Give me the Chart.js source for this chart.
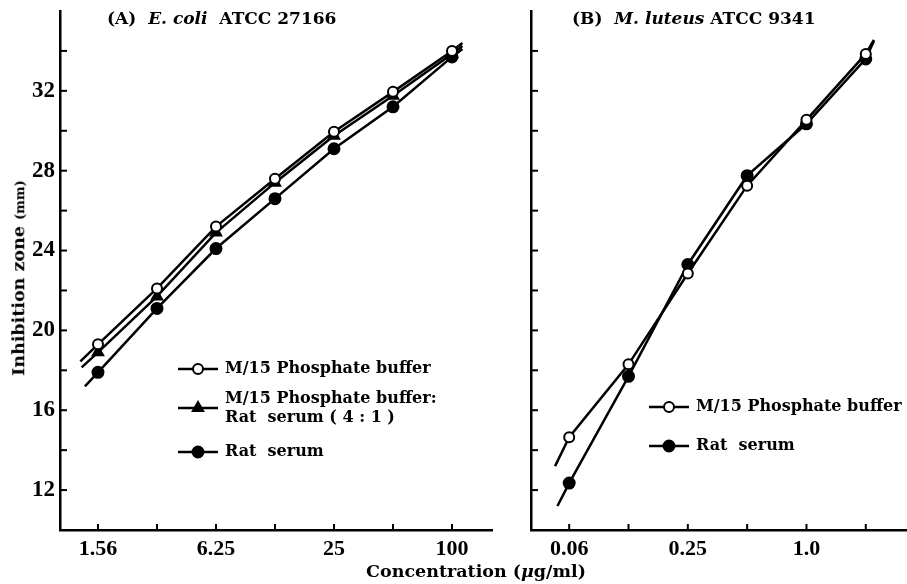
<!DOCTYPE html>
<html><head><meta charset="utf-8">
<script src="https://cdn.jsdelivr.net/npm/chart.js@4"></script>
<style>
body{margin:0;background:#fff;width:907px;height:584px;overflow:hidden;position:relative;font-family:"DejaVu Serif",serif;font-weight:bold;color:#000}
#wa{position:absolute;left:0;top:0;width:500px;height:584px}
#wb{position:absolute;left:500px;top:0;width:407px;height:584px}
.t{position:absolute;white-space:nowrap;font-size:17px;line-height:1}
</style></head><body>
<div id="wa"><canvas id="ca"></canvas></div>
<div id="wb"><canvas id="cb"></canvas></div>
<div class="t" style="left:107px;top:10px">(A)&nbsp; <i>E. coli</i>&nbsp; ATCC 27166</div>
<div class="t" style="left:572px;top:10px">(B)&nbsp; <i>M. luteus</i>&nbsp;ATCC 9341</div>
<div class="t" style="left:476px;top:572px;font-size:17.5px;transform:translate(-50%,-50%)">Concentration (<i>μ</i>g/ml)</div>
<div class="t" style="left:19px;top:278px;font-size:17.5px;transform:translate(-50%,-50%) rotate(-90deg)">Inhibition zone <span style="font-size:13px">(mm)</span></div>
<script>
// ---- Panel A: E. coli ATCC 27166 ----
const concA = [1.5625, 3.125, 6.25, 12.5, 25, 50, 100];
const bufferA = [19.3, 22.1, 25.2, 27.6, 29.95, 31.95, 34.0];
const mixA = [18.9, 21.7, 24.9, 27.4, 29.75, 31.75, 33.85];
const serumA = [17.9, 21.1, 24.1, 26.6, 29.1, 31.2, 33.7];
// drawn line ends beyond the outer points: [concentration, zone]
const bufferAEnds = [[1.27, 18.45], [113, 34.4]];
const mixAEnds = [[1.29, 18.15], [113, 34.25]];
const serumAEnds = [[1.34, 17.2], [113, 34.1]];
const xTicksA = [1.5625, 3.125, 6.25, 12.5, 25, 50, 100];
const xLabelsA = ['1.56', '', '6.25', '', '25', '', '100'];

// ---- Panel B: M. luteus ATCC 9341 ----
const concB = [0.0625, 0.125, 0.25, 0.5, 1.0, 2.0];
const bufferB = [14.65, 18.3, 22.85, 27.25, 30.55, 33.85];
const serumB = [12.35, 17.7, 23.3, 27.75, 30.35, 33.6];
const bufferBEnds = [[0.053, 13.2], [2.2, 34.55]];
const serumBEnds = [[0.0545, 11.2], [2.2, 34.5]];
const xTicksB = [0.0625, 0.125, 0.25, 0.5, 1, 2];
const xLabelsB = ['0.06', '', '0.25', '', '1.0', ''];

// ---- shared y axis ----
const yTicks = [12, 14, 16, 18, 20, 22, 24, 26, 28, 30, 32, 34];
const yLabels = ['12', '', '16', '', '20', '', '24', '', '28', '', '32', ''];

const TICKFONT = '"Liberation Serif", serif';
const TEXTFONT = '"DejaVu Serif", serif';

function series(xs, ys, ends) {
  const pts = xs.map((x, i) => ({x: x, y: ys[i]}));
  return [{x: ends[0][0], y: ends[0][1]}, ...pts, {x: ends[1][0], y: ends[1][1]}];
}
function ds(label, data, style) {
  const n = data.length;
  return {
    label, data, showLine: true, borderColor: '#000', borderWidth: 2.5,
    pointStyle: style.ps, backgroundColor: style.fill, pointBorderColor: '#000',
    pointBackgroundColor: style.fill, pointBorderWidth: 2,
    pointRadius: ctx => (ctx.dataIndex === 0 || ctx.dataIndex === n - 1) ? 0 : style.r,
    tension: 0, clip: false, _mk: style
  };
}
const OPEN = {ps: 'circle', fill: '#fff', r: 5};
const TRI = {ps: 'triangle', fill: '#000', r: 6};
const FILLED = {ps: 'circle', fill: '#000', r: 5.5};

const inwardTicks = {
  id: 'inwardTicks',
  afterDraw(chart) {
    const {ctx, chartArea: a} = chart;
    const xs = chart.scales.x, ys = chart.scales.y;
    ctx.save(); ctx.strokeStyle = '#000'; ctx.lineWidth = 2;
    xs.ticks.forEach(t => { const p = xs.getPixelForValue(t.value); ctx.beginPath(); ctx.moveTo(p, a.bottom); ctx.lineTo(p, a.bottom - 6); ctx.stroke(); });
    ys.ticks.forEach(t => { const p = ys.getPixelForValue(t.value); ctx.beginPath(); ctx.moveTo(a.left, p); ctx.lineTo(a.left + 7, p); ctx.stroke(); });
    ctx.restore();
  }
};
const customLegend = {
  id: 'customLegend',
  afterDraw(chart, args, opts) {
    if (!opts || !opts.items) return;
    const ctx = chart.ctx;
    ctx.save();
    opts.items.forEach(it => {
      const d = chart.data.datasets[it.ds];
      const st = d._mk;
      ctx.strokeStyle = '#000'; ctx.lineWidth = 2.5;
      ctx.beginPath(); ctx.moveTo(opts.x, it.y); ctx.lineTo(opts.x + opts.w, it.y); ctx.stroke();
      ctx.fillStyle = st.fill; ctx.strokeStyle = '#000'; ctx.lineWidth = 2;
      Chart.helpers.drawPoint(ctx, {pointStyle: st.ps, radius: st.r, rotation: 0, borderWidth: 2}, opts.x + opts.w / 2, it.y);
      ctx.fillStyle = '#000'; ctx.font = 'bold 16px ' + TEXTFONT; ctx.textBaseline = 'middle'; ctx.textAlign = 'left';
      const lh = 19;
      const y0 = it.y - (it.lines.length - 1) * lh / 2;
      it.lines.forEach((l, i) => ctx.fillText(l, opts.x + opts.w + 7, y0 + i * lh));
    });
    ctx.restore();
  }
};

function makeChart(id, datasets, xmin, xmax, xt, xl, showYLabels, yWidth, padRight, legend) {
  return new Chart(document.getElementById(id), {
    type: 'scatter',
    data: {datasets},
    options: {
      responsive: true, maintainAspectRatio: false, animation: false,
      layout: {padding: {top: 11, right: padRight, left: 0, bottom: 0}},
      plugins: {legend: {display: false}, tooltip: {enabled: false}, customLegend: legend},
      scales: {
        x: {
          type: 'logarithmic', min: xmin, max: xmax,
          grid: {display: false, drawTicks: false},
          border: {display: true, color: '#000', width: 2.5},
          afterBuildTicks: s => { s.ticks = xt.map(v => ({value: v})); },
          afterFit: s => { s.height = 54; s.paddingLeft = 0; s.paddingRight = 0; },
          ticks: {autoSkip: false, maxRotation: 0, padding: 6, color: '#000',
                  font: {family: TICKFONT, size: 22, weight: 'bold'},
                  callback: (v, i) => xl[i]}
        },
        y: {
          type: 'linear', min: 10, max: 36,
          grid: {display: false, drawTicks: false},
          border: {display: true, color: '#000', width: 2.5},
          afterBuildTicks: s => { s.ticks = yTicks.map(v => ({value: v})); },
          afterFit: s => { s.width = yWidth; s.paddingTop = 0; s.paddingBottom = 0; },
          ticks: {autoSkip: false, padding: 5, color: '#000', display: true,
                  font: {family: TICKFONT, size: 23, weight: 'bold'},
                  callback: (v, i) => showYLabels ? yLabels[i] : ''}
        }
      }
    },
    plugins: [inwardTicks, customLegend]
  });
}

makeChart('ca', [
  ds('M/15 Phosphate buffer', series(concA, bufferA, bufferAEnds), OPEN),
  ds('M/15 Phosphate buffer: Rat serum (4 : 1)', series(concA, mixA, mixAEnds), TRI),
  ds('Rat serum', series(concA, serumA, serumAEnds), FILLED)
], 1, 160, xTicksA, xLabelsA, true, 60, 8, {
  x: 178, w: 40,
  items: [
    {ds: 0, y: 369, lines: ['M/15 Phosphate buffer']},
    {ds: 1, y: 408, lines: ['M/15 Phosphate buffer:', 'Rat  serum ( 4 : 1 )']},
    {ds: 2, y: 452, lines: ['Rat  serum']}
  ]
});

makeChart('cb', [
  ds('M/15 Phosphate buffer', series(concB, bufferB, bufferBEnds), OPEN),
  ds('Rat serum', series(concB, serumB, serumBEnds), FILLED)
], 0.04, 3.2, xTicksB, xLabelsB, false, 31, 1, {
  x: 149, w: 40,
  items: [
    {ds: 0, y: 407, lines: ['M/15 Phosphate buffer']},
    {ds: 1, y: 446, lines: ['Rat  serum']}
  ]
});
</script>
</body></html>
